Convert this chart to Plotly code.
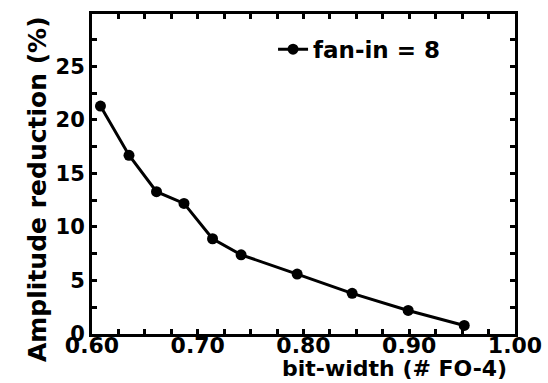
import plotly.graph_objects as go

# bit-width (# FO-4) vs amplitude reduction (%)
bit_width = [0.608, 0.635, 0.661, 0.687, 0.714, 0.741, 0.794, 0.846, 0.899, 0.952]
amp_reduction = [21.3, 16.7, 13.3, 12.2, 8.9, 7.4, 5.6, 3.8, 2.2, 0.8]

x_ticks = [0.6, 0.7, 0.8, 0.9, 1.0]
x_labels = ["0.60", "0.70", "0.80", "0.90", "1.00"]
y_ticks = [0, 5, 10, 15, 20, 25]

FONT = "DejaVu Sans, sans-serif"

fig = go.Figure()
fig.add_trace(go.Scatter(
    x=bit_width, y=amp_reduction,
    mode="lines+markers",
    name="fan-in = 8",
    line=dict(color="black", width=3),
    marker=dict(color="black", size=11),
))

axis_common = dict(
    showline=True, linecolor="black", linewidth=3,
    mirror="allticks", ticks="inside", ticklen=5, tickwidth=2.5, tickcolor="black",
    showgrid=False, zeroline=False, automargin=False,
)

fig.update_xaxes(
    range=[0.6, 1.0], tickvals=x_ticks, ticktext=x_labels,
    tickfont=dict(family=FONT, size=22, color="black", weight="bold"),
    ticklabelstandoff=-10,
    minor=dict(dtick=0.025, ticks="inside", ticklen=5, tickwidth=2.5, tickcolor="black"),
    **axis_common,
)
fig.update_yaxes(
    range=[0, 29.9], tickvals=y_ticks,
    tickfont=dict(family=FONT, size=21, color="black", weight="bold"),
    minor=dict(dtick=2.5, ticks="inside", ticklen=5, tickwidth=2.5, tickcolor="black"),
    **axis_common,
)

# axis titles placed as in the original figure
fig.add_annotation(
    text="bit-width (# FO-4)", xref="paper", yref="paper",
    x=1.0, y=0, xanchor="right", yanchor="top", xshift=-6, yshift=-20,
    showarrow=False,
    font=dict(family=FONT, size=22, color="black", weight="bold"),
)
fig.add_annotation(
    text="Amplitude reduction (%)", xref="paper", yref="paper",
    x=0, y=0.453, xanchor="center", yanchor="middle", xshift=-55, textangle=-90,
    showarrow=False,
    font=dict(family=FONT, size=25, color="black", weight="bold"),
)

fig.update_layout(
    width=548, height=383,
    margin=dict(l=92, r=33, t=14, b=49),
    plot_bgcolor="white", paper_bgcolor="white",
    showlegend=True,
    legend=dict(
        x=0.428, y=0.89, xanchor="left", yanchor="middle",
        bgcolor="rgba(0,0,0,0)", itemwidth=30,
        font=dict(family=FONT, size=23, color="black", weight="bold"),
    ),
)

fig.write_html(
    "out.html",
    config={"displayModeBar": False},
    post_script="document.body.style.margin='0';",
)
